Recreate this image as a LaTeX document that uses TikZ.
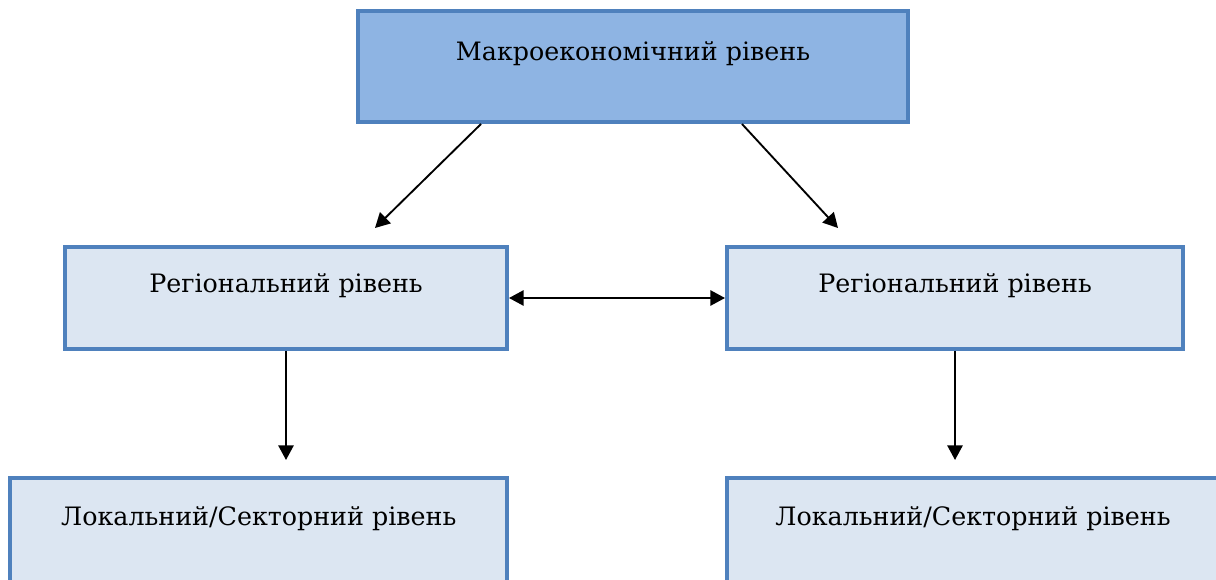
\documentclass[tikz,border=0pt]{standalone}
\usepackage{fontspec}
\setmainfont{DejaVu Serif}
\usetikzlibrary{arrows.meta}
\definecolor{boxline}{RGB}{79,129,189}
\definecolor{macrofill}{RGB}{142,180,227}
\definecolor{levelfill}{RGB}{220,230,242}
\tikzset{
  levelbox/.style={draw=boxline, line width=3pt, fill=levelfill,
    inner xsep=0pt, inner ysep=0pt, font=\fontsize{19}{23}\selectfont},
  macrobox/.style={levelbox, fill=macrofill},
  arr/.style={-{Triangle[length=11pt,width=11.5pt]}, line width=1.4pt},
  darr/.style={{Triangle[length=11pt,width=11.5pt]}-{Triangle[length=11pt,width=11.5pt]}, line width=1.4pt}
}
\begin{document}
\begin{tikzpicture}[x=0.75pt,y=-0.75pt]
\useasboundingbox (0,0) rectangle (1216,580);
\clip (0,0) rectangle (1216,580);
% top level
\node[macrobox, minimum width=412.5pt, text height=37.5pt, text depth=45.75pt] (macro) at (633,66.5) {Макроекономічний рівень};
% regional level
\node[levelbox, minimum width=331.5pt, text height=34.5pt, text depth=42pt] (regL) at (286,298) {Регіональний рівень};
\node[levelbox, minimum width=342pt, text height=34.5pt, text depth=42pt] (regR) at (955,298) {Регіональний рівень};
% local level
\node[levelbox, minimum width=372.4pt, text height=35.25pt, text depth=56.25pt] (locL) at (258.75,539) {Локальний/Секторний рівень};
\node[levelbox, minimum width=369pt, text height=35.25pt, text depth=56.25pt] (locR) at (973,539) {Локальний/Секторний рівень};
% arrows
\coordinate (tipL) at (375,228);
\coordinate (tipR) at (838,228);
\coordinate (downL) at (286,460);
\coordinate (downR) at (955,460);
\draw[arr] ([xshift=-114pt]macro.south) -- (tipL);
\draw[arr] ([xshift=81.75pt]macro.south) -- (tipR);
\draw[darr] (regL.east) -- (regR.west);
\draw[arr] (regL.south) -- (downL);
\draw[arr] (regR.south) -- (downR);
\end{tikzpicture}
\end{document}
